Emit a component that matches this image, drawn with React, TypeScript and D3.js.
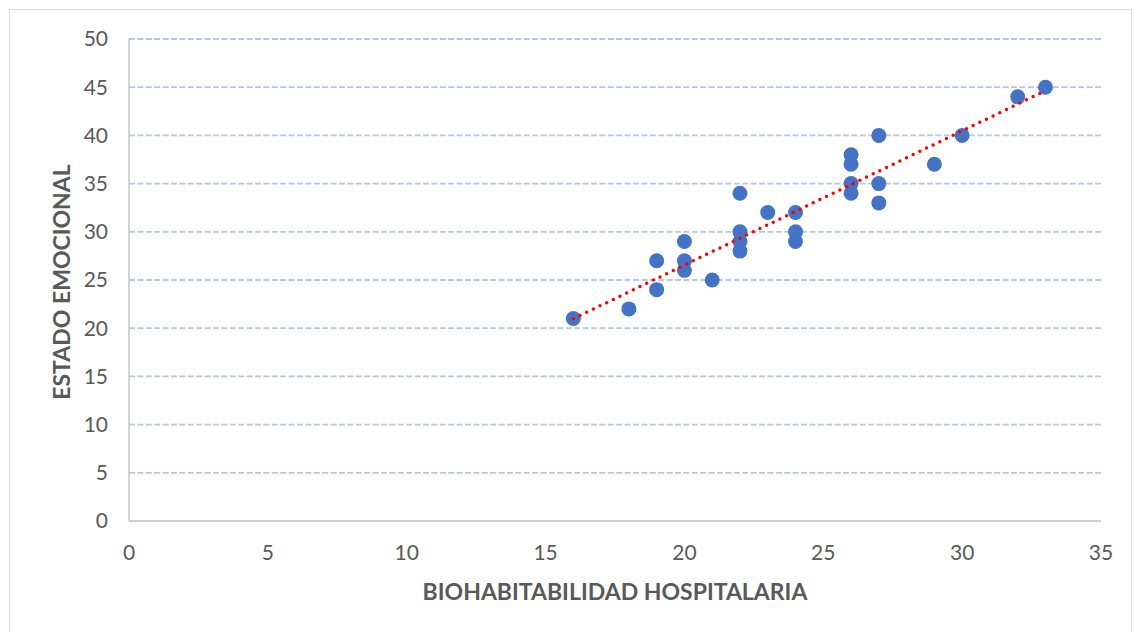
import React from "react";
import * as d3 from "d3";

const xValues = [16, 18, 19, 19, 20, 20, 20, 21, 22, 22, 22, 22, 23, 24, 24, 24, 26, 26, 26, 26, 27, 27, 27, 29, 30, 32, 33];
const yValues = [21, 22, 27, 24, 29, 27, 26, 25, 34, 30, 29, 28, 32, 32, 30, 29, 38, 37, 35, 34, 40, 35, 33, 37, 40, 44, 45];
const xTicks = [0, 5, 10, 15, 20, 25, 30, 35];
const yTicks = [0, 5, 10, 15, 20, 25, 30, 35, 40, 45, 50];
const xTitle = "BIOHABITABILIDAD HOSPITALARIA";
const yTitle = "ESTADO EMOCIONAL";

const W = 1134;
const H = 632;
const FONT = "Lato, 'Open Sans', sans-serif";

export default function App() {
  const x = d3.scaleLinear().domain([0, 35]).range([129, 1101]);
  const y = d3.scaleLinear().domain([0, 50]).range([521, 39]);

  const n = xValues.length;
  const mx = d3.mean(xValues)!;
  const my = d3.mean(yValues)!;
  let sxy = 0, sxx = 0;
  for (let i = 0; i < n; i++) {
    sxy += (xValues[i] - mx) * (yValues[i] - my);
    sxx += (xValues[i] - mx) ** 2;
  }
  const slope = sxy / sxx;
  const icpt = my - slope * mx;
  const x0 = d3.min(xValues)!;
  const x1 = d3.max(xValues)!;
  const line = d3.line<number>().x((d) => x(d)).y((d) => y(icpt + slope * d));

  return (
    <svg width={W} height={H} style={{ position: "absolute", left: 0, top: 0, background: "#fff" }}>
      <rect x={9.5} y={9.5} width={1122} height={640} fill="#fff" stroke="#d9d9d9" strokeWidth={1} />
      {yTicks.filter((t) => t > 0).map((t) => (
        <line key={t} x1={x(0)} x2={x(35)} y1={y(t)} y2={y(t)} stroke="#b4c7e7" strokeWidth={1.8} strokeDasharray="6 2.4" />
      ))}
      <line x1={x(0)} x2={x(0)} y1={y(50)} y2={y(0)} stroke="#bfbfbf" strokeWidth={1.3} />
      <line x1={x(0)} x2={x(35)} y1={y(0)} y2={y(0)} stroke="#bfbfbf" strokeWidth={1.3} />
      {yTicks.map((t) => (
        <text key={t} x={108} y={y(t)} dy="0.35em" textAnchor="end" fontFamily={FONT} fontSize={21} fill="#595959">{t}</text>
      ))}
      {xTicks.map((t) => (
        <text key={t} x={x(t)} y={553} dy="0.35em" textAnchor="middle" fontFamily={FONT} fontSize={21} fill="#595959">{t}</text>
      ))}
      <text x={615} y={592} dy="0.35em" textAnchor="middle" fontFamily={FONT} fontSize={23} fontWeight="bold" fill="#595959">{xTitle}</text>
      <text transform={`translate(62,282) rotate(-90)`} dy="0.35em" textAnchor="middle" fontFamily={FONT} fontSize={23} fontWeight="bold" fill="#595959">{yTitle}</text>
      {xValues.map((xv, i) => (
        <circle key={i} cx={x(xv)} cy={y(yValues[i])} r={7.5} fill="#4472c4" />
      ))}
      <path d={line([x0, x1]) || ""} fill="none" stroke="#ff0000" strokeWidth={3.5} strokeLinecap="round" strokeDasharray="0 7.4" />
    </svg>
  );
}
